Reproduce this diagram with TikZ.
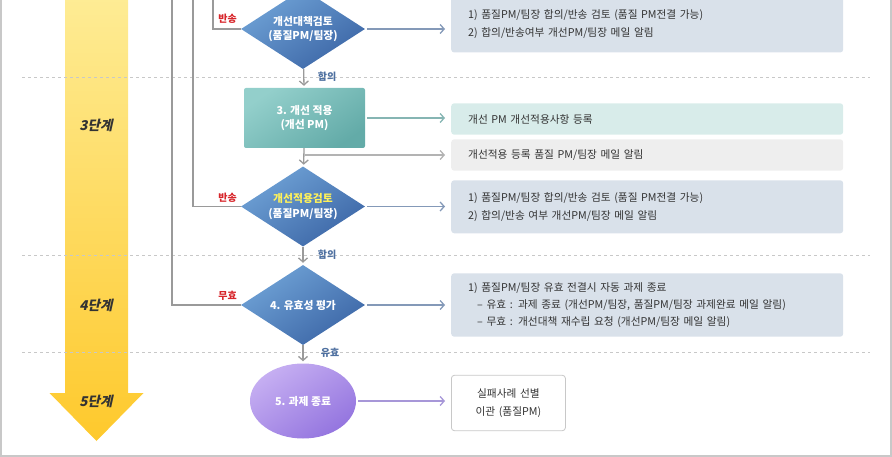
\documentclass[tikz,border=0pt]{standalone}
\usepackage{fontspec}
\setmainfont{Noto Sans CJK KR}
\newfontfamily\stagefont{Noto Sans CJK KR}[FakeSlant=0.22]
\usetikzlibrary{shapes.geometric,arrows.meta}
\definecolor{framegray}{HTML}{C8C8C8}
\definecolor{flowgray}{HTML}{9A9A9A}
\definecolor{stepblueA}{HTML}{6FA2D6}
\definecolor{stepblueB}{HTML}{3C66A6}
\definecolor{tealA}{HTML}{93CFCB}
\definecolor{tealB}{HTML}{63ABA8}
\definecolor{violetA}{HTML}{C6AFF2}
\definecolor{violetB}{HTML}{9475DF}
\definecolor{noteblue}{HTML}{D9E1EA}
\definecolor{noteteal}{HTML}{D8ECEA}
\definecolor{notegray}{HTML}{EEEEEE}
\definecolor{backred}{HTML}{D7262B}
\definecolor{okblue}{HTML}{4E70A0}
\definecolor{yellowA}{HTML}{FEEC95}
\definecolor{yellowB}{HTML}{FEC92C}
\definecolor{textdark}{HTML}{333333}
\definecolor{linkblue}{HTML}{8499B8}
\definecolor{linkteal}{HTML}{86B5B3}
\definecolor{linkviolet}{HTML}{A797D8}
\definecolor{titleyellow}{HTML}{FFF25A}

\begin{document}
\begin{tikzpicture}[x=1pt,y=-1pt,
        check/.style={diamond,aspect=1.55,minimum width=124pt,minimum height=80pt,inner sep=0pt,
            top color=stepblueA,bottom color=stepblueB,shading angle=35,align=center,text=white,
            font=\fontsize{10.8}{14.5}\selectfont\bfseries},
        task/.style={rectangle,rounded corners=2pt,minimum width=121pt,minimum height=60pt,
            top color=tealA,bottom color=tealB,shading angle=35,align=center,text=white,
            font=\fontsize{10.8}{14.5}\selectfont\bfseries},
        finish/.style={ellipse,minimum width=106pt,minimum height=75pt,
            top color=violetA,bottom color=violetB,shading angle=35,text=white,
            font=\fontsize{10.8}{14.5}\selectfont\bfseries},
        note/.style={rectangle,rounded corners=3pt,anchor=west,text width=358pt,inner xsep=17pt,
            inner ysep=0pt,align=left,text=textdark,font=\fontsize{10.7}{18}\selectfont},
        flow/.style={flowgray,line width=1.3pt,-{Straight Barb[length=4pt,width=9pt]},shorten >=2pt},
        side/.style={line width=1.3pt,-{Straight Barb[length=4pt,width=9pt]},shorten >=6pt,shorten <=2pt},
        loopline/.style={flowgray,line width=1.3pt},
        backlabel/.style={text=backred,anchor=east,inner sep=0pt,font=\fontsize{10}{10}\selectfont\bfseries},
        oklabel/.style={text=okblue,inner sep=0pt,font=\fontsize{10}{10}\selectfont\bfseries},
        stagelabel/.style={text=textdark,inner sep=0pt,font=\stagefont\fontsize{13.5}{13.5}\selectfont\bfseries},
        divider/.style={framegray,line width=0.8pt,dash pattern=on 3pt off 3pt}]
        \useasboundingbox (0,0) rectangle (892,457);
        \draw[framegray,line width=1.5pt] (1,-5) -- (1,456) -- (891,456) -- (891,-5);

        \shade[top color=yellowA,bottom color=yellowB] (65,-5) -- (128,-5) -- (128,393) -- (143.5,393)
            -- (96.5,441) -- (49.5,393) -- (65,393) -- cycle;
        \node[stagelabel] (stage3) at (96,125) {3단계};
        \node[stagelabel] (stage4) at (96,305) {4단계};
        \node[stagelabel] (stage5) at (96,401) {5단계};

        \draw[divider] (22,77) -- (870,77);
        \draw[divider] (22,255) -- (870,255);
        \draw[divider] (22,352) -- (870,352);

        \node[check] (planrev) at (303,29) {개선대책검토\\(품질PM/팀장)};
        \node[task] (apply) at (304.5,118) {3. 개선 적용\\(개선 PM)};
        \node[check] (applyrev) at (303,206.5) {\textcolor{titleyellow}{개선적용검토}\\(품질PM/팀장)};
        \node[check] (eval) at (303,305) {4. 유효성 평가};
        \node[finish] (done) at (303,401) {5. 과제 종료};

        \coordinate (loop1) at (213,-5);
        \coordinate (loop2) at (193,-5);
        \coordinate (loop3) at (172,-5);
        \draw[loopline] (loop1) |- (planrev.west);
        \draw[loopline] (loop2) |- (applyrev.west);
        \draw[loopline] (loop3) |- (eval.west);
        \node[backlabel] (back1) at (237,19) {반송};
        \node[backlabel] (back2) at (237,198) {반송};
        \node[backlabel] (void) at (237,296) {무효};

        \draw[flow] (planrev) -- (apply);
        \draw[flow] (apply) -- (applyrev);
        \draw[flow] (applyrev) -- (eval);
        \draw[flow] (eval) -- (done);
        \node[oklabel] (agree1) at (327,77) {합의};
        \node[oklabel] (agree2) at (327,255) {합의};
        \node[oklabel] (valid) at (330,353) {유효};

        \node[note,fill=noteblue,minimum height=56pt] (note1) at (451,24.5)
            {1) 품질PM/팀장 합의/반송 검토 (품질 PM전결 가능)\\2) 합의/반송여부 개선PM/팀장 메일 알림};
        \node[note,fill=noteteal,minimum height=31.4pt] (note2) at (451,119)
            {개선 PM 개선적용사항 등록};
        \node[note,fill=notegray,minimum height=31.4pt] (note3) at (451,155)
            {개선적용 등록 품질 PM/팀장 메일 알림};
        \node[note,fill=noteblue,minimum height=53pt] (note4) at (451,206.8)
            {1) 품질PM/팀장 합의/반송 검토 (품질 PM전결 가능)\\2) 합의/반송 여부 개선PM/팀장 메일 알림};
        \node[note,fill=noteblue,minimum height=63.4pt,font=\fontsize{10.7}{17}\selectfont] (note5) at (451,305)
            {1) 품질PM/팀장 유효 전결시 자동 과제 종료\\
            \hspace*{9pt}– 유효 : 과제 종료 (개선PM/팀장, 품질PM/팀장 과제완료 메일 알림)\\
            \hspace*{9pt}– 무효 : 개선대책 재수립 요청 (개선PM/팀장 메일 알림)};
        \node[note,fill=white,draw=framegray,line width=0.8pt,text width=100pt,inner xsep=7pt,
            align=center,minimum height=55.4pt] (note6) at (451,403)
            {실패사례 선별\\이관 (품질PM)};

        \coordinate (tap) at (apply.south |- note3.west);
        \draw[side,linkblue] (planrev.east) -- (planrev.east -| note1.west);
        \draw[side,linkteal] (apply.east) -- (apply.east -| note2.west);
        \draw[side,flowgray!75,shorten <=0pt] (tap) -- (note3.west);
        \draw[side,linkblue] (applyrev.east) -- (applyrev.east -| note4.west);
        \draw[side,linkblue] (eval.east) -- (eval.east -| note5.west);
        \draw[side,linkviolet] (done.east) -- (done.east -| note6.west);

    \end{tikzpicture}
\end{document}
